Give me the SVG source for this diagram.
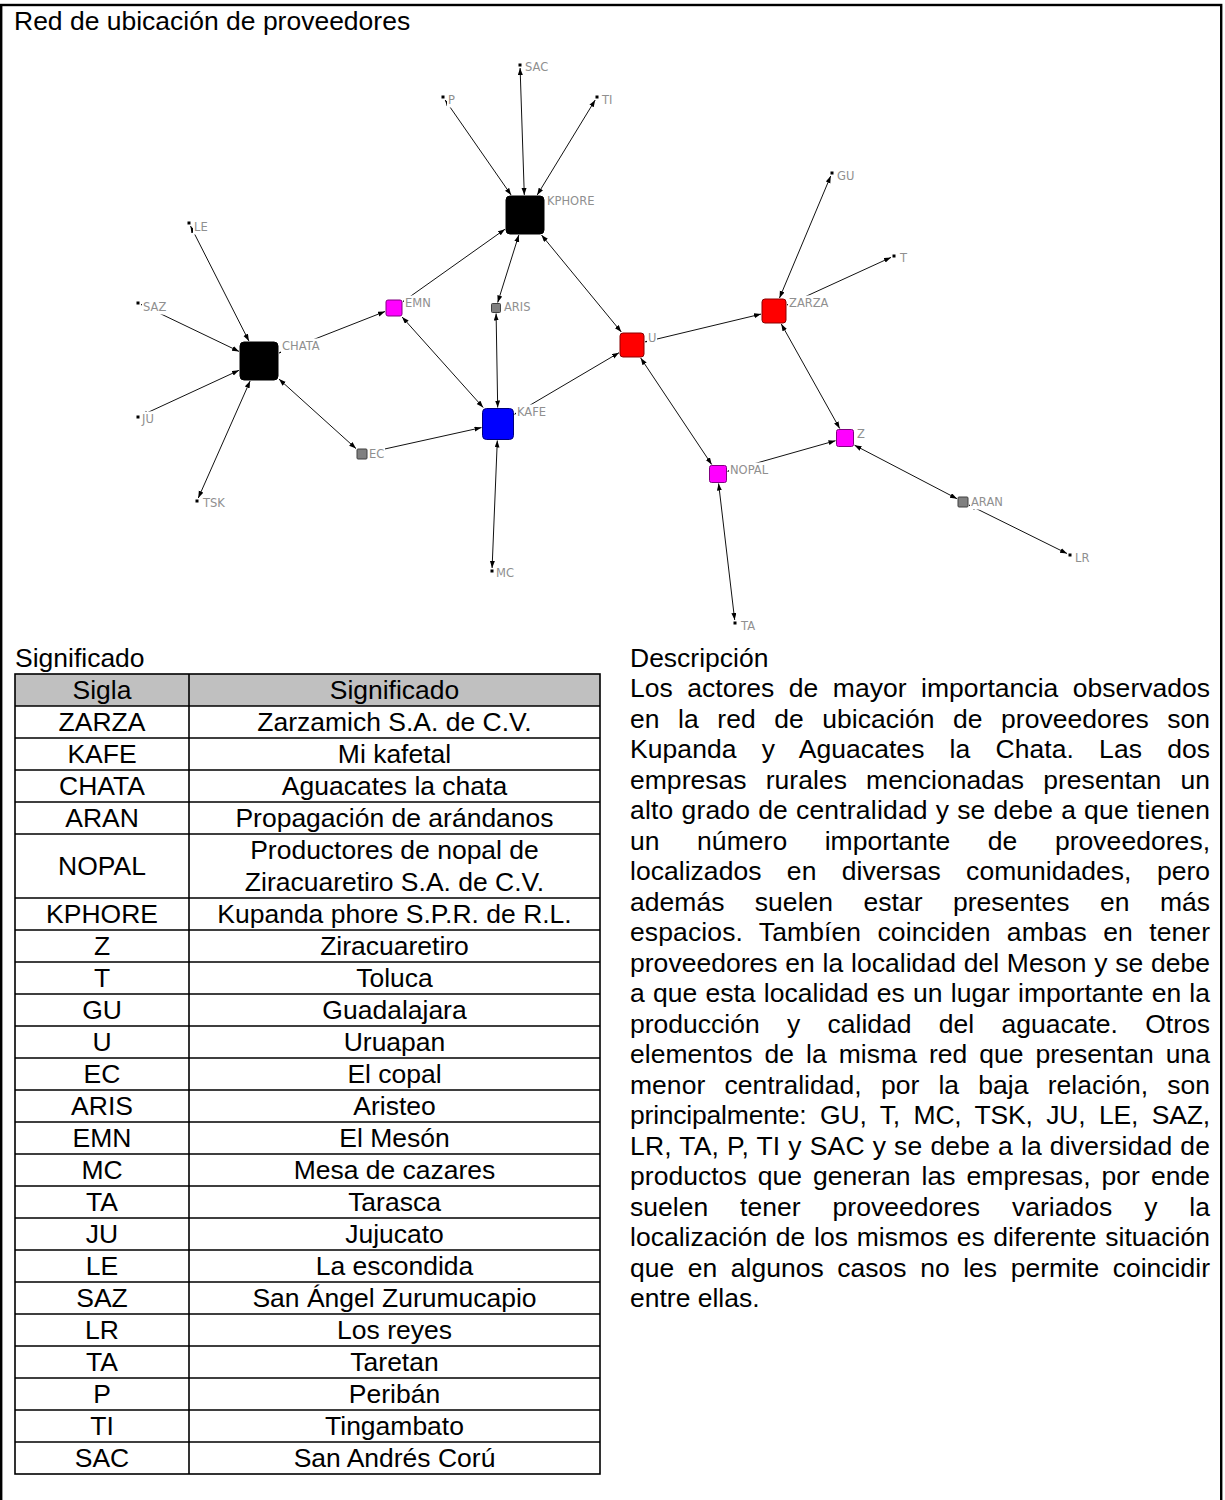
<svg xmlns="http://www.w3.org/2000/svg" width="1225" height="1500" viewBox="0 0 1225 1500">
<style>
.t{font-family:"Liberation Sans",Arial,sans-serif;font-size:25px;fill:#000}
.c{text-anchor:middle}
.lbl{font-family:"DejaVu Sans",Verdana,sans-serif;font-size:11.5px;fill:#8f8f8f}
.lb{fill:#fff}
.e{stroke:#111;stroke-width:1;fill:none;marker-start:url(#ah);marker-end:url(#ah)}
.big{fill:#000;stroke:#000;stroke-width:1}
.blue{fill:#0000ff;stroke:#00007a;stroke-width:1}
.red{fill:#ff0000;stroke:#8b0000;stroke-width:1}
.mag{fill:#ff00ff;stroke:#800080;stroke-width:1}
.gray{fill:#808080;stroke:#404040;stroke-width:1}
.leaf{fill:#000}
.tb{stroke:#000;stroke-width:1.6;fill:none}
</style>
<defs>
<marker id="ah" markerUnits="userSpaceOnUse" markerWidth="8" markerHeight="6" refX="7" refY="2.5" orient="auto-start-reverse">
<path d="M0,0 L7,2.5 L0,5 z" fill="#000"/>
</marker>
</defs>
<rect x="0" y="0" width="1225" height="1500" fill="#fff"/>
<rect x="1.2" y="5" width="1220" height="1520" fill="none" stroke="#000" stroke-width="2.4"/>
<text class="t" transform="translate(14,29.5) scale(1.06,1)">Red de ubicación de proveedores</text>

<g id="connectors">
<line class="e" x1="524.3" y1="195" x2="520.1" y2="68"/>
<line class="e" x1="511.1" y1="195" x2="445.1" y2="100"/>
<line class="e" x1="537.2" y1="195" x2="595.2" y2="100"/>
<line class="e" x1="505" y1="229.2" x2="403" y2="301.6"/>
<line class="e" x1="518.8" y1="235" x2="497.7" y2="302.5"/>
<line class="e" x1="541.5" y1="235" x2="621.3" y2="332"/>
<line class="e" x1="248.9" y1="341" x2="190.5" y2="226"/>
<line class="e" x1="239" y1="351.4" x2="141" y2="304.4"/>
<line class="e" x1="279" y1="353.1" x2="385" y2="311.5"/>
<line class="e" x1="483.2" y1="407.5" x2="402.1" y2="317"/>
<line class="e" x1="497.7" y1="407.5" x2="496.1" y2="313.5"/>
<line class="e" x1="239" y1="370.3" x2="141" y2="415.6"/>
<line class="e" x1="250.1" y1="381" x2="198.3" y2="498"/>
<line class="e" x1="279" y1="379.1" x2="356" y2="448.6"/>
<line class="e" x1="368" y1="452.7" x2="481.5" y2="427.6"/>
<line class="e" x1="497.3" y1="440.5" x2="492.1" y2="568"/>
<line class="e" x1="514.5" y1="414.3" x2="619" y2="352.7"/>
<line class="e" x1="645" y1="341.9" x2="761" y2="314.1"/>
<line class="e" x1="779.5" y1="298" x2="830.7" y2="176"/>
<line class="e" x1="787" y1="305" x2="891" y2="257.4"/>
<line class="e" x1="781.3" y1="324" x2="839.7" y2="428.5"/>
<line class="e" x1="640.7" y1="358" x2="711.7" y2="464.5"/>
<line class="e" x1="727.5" y1="471.3" x2="835.5" y2="440.7"/>
<line class="e" x1="854.5" y1="445.2" x2="957" y2="498.7"/>
<line class="e" x1="969" y1="505" x2="1067" y2="553.5"/>
<line class="e" x1="718.6" y1="483.5" x2="734.7" y2="620"/>
</g>

<g id="node-SAC"><rect class="lb" x="524" y="59.5" width="25" height="15"/><text class="lbl" x="525" y="71">SAC</text><rect class="leaf" x="518.5" y="63.5" width="3" height="3"/></g>
<g id="node-P"><rect class="lb" x="447" y="92.5" width="9" height="15"/><text class="lbl" x="448" y="104">P</text><rect class="leaf" x="441.5" y="95.5" width="3" height="3"/></g>
<g id="node-TI"><rect class="lb" x="601" y="92.5" width="12" height="15"/><text class="lbl" x="602" y="104">TI</text><rect class="leaf" x="595.5" y="95.5" width="3" height="3"/></g>
<g id="node-KPHORE"><rect class="lb" x="546" y="193.5" width="49" height="15"/><text class="lbl" x="547" y="205">KPHORE</text><rect class="big" x="506" y="196" width="38" height="38" rx="4"/></g>
<g id="node-LE"><rect class="lb" x="193" y="219.5" width="15" height="15"/><text class="lbl" x="194" y="231">LE</text><rect class="leaf" x="187.5" y="221.5" width="3" height="3"/></g>
<g id="node-SAZ"><rect class="lb" x="142" y="299.5" width="25" height="15"/><text class="lbl" x="143" y="311">SAZ</text><rect class="leaf" x="136.5" y="301.5" width="3" height="3"/></g>
<g id="node-EMN"><rect class="lb" x="404" y="295.5" width="28" height="15"/><text class="lbl" x="405" y="307">EMN</text><rect class="mag" x="386" y="300" width="16" height="16" rx="2"/></g>
<g id="node-ARIS"><rect class="lb" x="503" y="299.5" width="28" height="15"/><text class="lbl" x="504" y="311">ARIS</text><rect class="gray" x="491.5" y="303.5" width="9" height="9" rx="1"/></g>
<g id="node-CHATA"><rect class="lb" x="281" y="338.5" width="41" height="15"/><text class="lbl" x="282" y="350">CHATA</text><rect class="big" x="240" y="342" width="38" height="38" rx="4"/></g>
<g id="node-JU"><rect class="lb" x="141" y="411.5" width="14" height="15"/><text class="lbl" x="142" y="423">JU</text><rect class="leaf" x="136.5" y="415.5" width="3" height="3"/></g>
<g id="node-TSK"><rect class="lb" x="202" y="495.5" width="24" height="15"/><text class="lbl" x="203" y="507">TSK</text><rect class="leaf" x="195.5" y="499.5" width="3" height="3"/></g>
<g id="node-EC"><rect class="lb" x="368" y="446.5" width="17" height="15"/><text class="lbl" x="369" y="458">EC</text><rect class="gray" x="357" y="449" width="10" height="10" rx="1"/></g>
<g id="node-KAFE"><rect class="lb" x="516" y="404.5" width="31" height="15"/><text class="lbl" x="517" y="416">KAFE</text><rect class="blue" x="482.5" y="408.5" width="31" height="31" rx="4"/></g>
<g id="node-MC"><rect class="lb" x="495" y="565.5" width="20" height="15"/><text class="lbl" x="496" y="577">MC</text><rect class="leaf" x="490.5" y="569.5" width="3" height="3"/></g>
<g id="node-GU"><rect class="lb" x="836" y="168.5" width="19" height="15"/><text class="lbl" x="837" y="180">GU</text><rect class="leaf" x="830.5" y="171.5" width="3" height="3"/></g>
<g id="node-T"><rect class="lb" x="899" y="250.5" width="9" height="15"/><text class="lbl" x="900" y="262">T</text><rect class="leaf" x="892.5" y="254.5" width="3" height="3"/></g>
<g id="node-ZARZA"><rect class="lb" x="788" y="295.5" width="41" height="15"/><text class="lbl" x="789" y="307">ZARZA</text><rect class="red" x="762" y="299" width="24" height="24" rx="3"/></g>
<g id="node-U"><rect class="lb" x="647" y="330.5" width="10" height="15"/><text class="lbl" x="648" y="342">U</text><rect class="red" x="620" y="333" width="24" height="24" rx="3"/></g>
<g id="node-Z"><rect class="lb" x="856" y="426.5" width="10" height="15"/><text class="lbl" x="857" y="438">Z</text><rect class="mag" x="836.5" y="429.5" width="17" height="17" rx="2"/></g>
<g id="node-NOPAL"><rect class="lb" x="729" y="462.5" width="41" height="15"/><text class="lbl" x="730" y="474">NOPAL</text><rect class="mag" x="709.5" y="465.5" width="17" height="17" rx="2"/></g>
<g id="node-ARAN"><rect class="lb" x="970" y="494.5" width="34" height="15"/><text class="lbl" x="971" y="506">ARAN</text><rect class="gray" x="958" y="497" width="10" height="10" rx="1"/></g>
<g id="node-LR"><rect class="lb" x="1074" y="550.5" width="16" height="15"/><text class="lbl" x="1075" y="562">LR</text><rect class="leaf" x="1068.5" y="553.5" width="3" height="3"/></g>
<g id="node-TA"><rect class="lb" x="740" y="618.5" width="17" height="15"/><text class="lbl" x="741" y="630">TA</text><rect class="leaf" x="733.5" y="621.5" width="3" height="3"/></g>

<g id="table">
<text class="t" transform="translate(15,667) scale(1.06,1)">Significado</text>
<rect x="15" y="674" width="585" height="32" fill="#c0c0c0"/>
<rect class="tb" x="15" y="674" width="585" height="800"/>
<line class="tb" x1="189" y1="674" x2="189" y2="1474"/>
<path class="tb" d="M15,706H600M15,738H600M15,770H600M15,802H600M15,834H600M15,898H600M15,930H600M15,962H600M15,994H600M15,1026H600M15,1058H600M15,1090H600M15,1122H600M15,1154H600M15,1186H600M15,1218H600M15,1250H600M15,1282H600M15,1314H600M15,1346H600M15,1378H600M15,1410H600M15,1442H600"/>
<text class="t c" transform="translate(102,699) scale(1.06,1)">Sigla</text>
<text class="t c" transform="translate(394.5,699) scale(1.06,1)">Significado</text>
<text class="t c" transform="translate(102,731) scale(1.06,1)">ZARZA</text>
<text class="t c" transform="translate(394.5,731) scale(1.06,1)">Zarzamich S.A. de C.V.</text>
<text class="t c" transform="translate(102,763) scale(1.06,1)">KAFE</text>
<text class="t c" transform="translate(394.5,763) scale(1.06,1)">Mi kafetal</text>
<text class="t c" transform="translate(102,795) scale(1.06,1)">CHATA</text>
<text class="t c" transform="translate(394.5,795) scale(1.06,1)">Aguacates la chata</text>
<text class="t c" transform="translate(102,827) scale(1.06,1)">ARAN</text>
<text class="t c" transform="translate(394.5,827) scale(1.06,1)">Propagación de arándanos</text>
<text class="t c" transform="translate(102,875) scale(1.06,1)">NOPAL</text>
<text class="t c" transform="translate(394.5,859) scale(1.06,1)">Productores de nopal de</text>
<text class="t c" transform="translate(394.5,891) scale(1.06,1)">Ziracuaretiro S.A. de C.V.</text>
<text class="t c" transform="translate(102,923) scale(1.06,1)">KPHORE</text>
<text class="t c" transform="translate(394.5,923) scale(1.06,1)">Kupanda phore S.P.R. de R.L.</text>
<text class="t c" transform="translate(102,955) scale(1.06,1)">Z</text>
<text class="t c" transform="translate(394.5,955) scale(1.06,1)">Ziracuaretiro</text>
<text class="t c" transform="translate(102,987) scale(1.06,1)">T</text>
<text class="t c" transform="translate(394.5,987) scale(1.06,1)">Toluca</text>
<text class="t c" transform="translate(102,1019) scale(1.06,1)">GU</text>
<text class="t c" transform="translate(394.5,1019) scale(1.06,1)">Guadalajara</text>
<text class="t c" transform="translate(102,1051) scale(1.06,1)">U</text>
<text class="t c" transform="translate(394.5,1051) scale(1.06,1)">Uruapan</text>
<text class="t c" transform="translate(102,1083) scale(1.06,1)">EC</text>
<text class="t c" transform="translate(394.5,1083) scale(1.06,1)">El copal</text>
<text class="t c" transform="translate(102,1115) scale(1.06,1)">ARIS</text>
<text class="t c" transform="translate(394.5,1115) scale(1.06,1)">Aristeo</text>
<text class="t c" transform="translate(102,1147) scale(1.06,1)">EMN</text>
<text class="t c" transform="translate(394.5,1147) scale(1.06,1)">El Mesón</text>
<text class="t c" transform="translate(102,1179) scale(1.06,1)">MC</text>
<text class="t c" transform="translate(394.5,1179) scale(1.06,1)">Mesa de cazares</text>
<text class="t c" transform="translate(102,1211) scale(1.06,1)">TA</text>
<text class="t c" transform="translate(394.5,1211) scale(1.06,1)">Tarasca</text>
<text class="t c" transform="translate(102,1243) scale(1.06,1)">JU</text>
<text class="t c" transform="translate(394.5,1243) scale(1.06,1)">Jujucato</text>
<text class="t c" transform="translate(102,1275) scale(1.06,1)">LE</text>
<text class="t c" transform="translate(394.5,1275) scale(1.06,1)">La escondida</text>
<text class="t c" transform="translate(102,1307) scale(1.06,1)">SAZ</text>
<text class="t c" transform="translate(394.5,1307) scale(1.06,1)">San Ángel Zurumucapio</text>
<text class="t c" transform="translate(102,1339) scale(1.06,1)">LR</text>
<text class="t c" transform="translate(394.5,1339) scale(1.06,1)">Los reyes</text>
<text class="t c" transform="translate(102,1371) scale(1.06,1)">TA</text>
<text class="t c" transform="translate(394.5,1371) scale(1.06,1)">Taretan</text>
<text class="t c" transform="translate(102,1403) scale(1.06,1)">P</text>
<text class="t c" transform="translate(394.5,1403) scale(1.06,1)">Peribán</text>
<text class="t c" transform="translate(102,1435) scale(1.06,1)">TI</text>
<text class="t c" transform="translate(394.5,1435) scale(1.06,1)">Tingambato</text>
<text class="t c" transform="translate(102,1467) scale(1.06,1)">SAC</text>
<text class="t c" transform="translate(394.5,1467) scale(1.06,1)">San Andrés Corú</text>
</g>

<g id="description">
<text class="t" transform="translate(630,667) scale(1.06,1)">Descripción</text>
<text class="t" transform="translate(630,697) scale(1.06,1)" word-spacing="6.7" textLength="547.2" lengthAdjust="spacing">Los actores de mayor importancia observados</text>
<text class="t" transform="translate(630,727.5) scale(1.06,1)" word-spacing="10.5" textLength="547.2" lengthAdjust="spacing">en la red de ubicación de proveedores son</text>
<text class="t" transform="translate(630,758) scale(1.06,1)" word-spacing="16.7" textLength="547.2" lengthAdjust="spacing">Kupanda y Aguacates la Chata. Las dos</text>
<text class="t" transform="translate(630,788.5) scale(1.06,1)" word-spacing="11.1" textLength="547.2" lengthAdjust="spacing">empresas rurales mencionadas presentan un</text>
<text class="t" transform="translate(630,819) scale(1.06,1)" word-spacing="0.4" textLength="547.2" lengthAdjust="spacing">alto grado de centralidad y se debe a que tienen</text>
<text class="t" transform="translate(630,849.5) scale(1.06,1)" word-spacing="28.4" textLength="547.2" lengthAdjust="spacing">un número importante de proveedores,</text>
<text class="t" transform="translate(630,880) scale(1.06,1)" word-spacing="17" textLength="547.2" lengthAdjust="spacing">localizados en diversas comunidades, pero</text>
<text class="t" transform="translate(630,910.5) scale(1.06,1)" word-spacing="21.7" textLength="547.2" lengthAdjust="spacing">además suelen estar presentes en más</text>
<text class="t" transform="translate(630,941) scale(1.06,1)" word-spacing="8.3" textLength="547.2" lengthAdjust="spacing">espacios. Tambíen coinciden ambas en tener</text>
<text class="t" transform="translate(630,971.5) scale(1.06,1)" word-spacing="0.3" textLength="547.2" lengthAdjust="spacing">proveedores en la localidad del Meson y se debe</text>
<text class="t" transform="translate(630,1002) scale(1.06,1)" word-spacing="0.8" textLength="547.2" lengthAdjust="spacing">a que esta localidad es un lugar importante en la</text>
<text class="t" transform="translate(630,1032.5) scale(1.06,1)" word-spacing="18.7" textLength="547.2" lengthAdjust="spacing">producción y calidad del aguacate. Otros</text>
<text class="t" transform="translate(630,1063) scale(1.06,1)" word-spacing="4.3" textLength="547.2" lengthAdjust="spacing">elementos de la misma red que presentan una</text>
<text class="t" transform="translate(630,1093.5) scale(1.06,1)" word-spacing="11.1" textLength="547.2" lengthAdjust="spacing">menor centralidad, por la baja relación, son</text>
<text class="t" transform="translate(630,1124) scale(1.06,1)" word-spacing="6.1" textLength="547.2" lengthAdjust="spacing">principalmente: GU, T, MC, TSK, JU, LE, SAZ,</text>
<text class="t" transform="translate(630,1154.5) scale(1.06,1)" word-spacing="0.4" textLength="547.2" lengthAdjust="spacing">LR, TA, P, TI y SAC y se debe a la diversidad de</text>
<text class="t" transform="translate(630,1185) scale(1.06,1)" word-spacing="3.4" textLength="547.2" lengthAdjust="spacing">productos que generan las empresas, por ende</text>
<text class="t" transform="translate(630,1215.5) scale(1.06,1)" word-spacing="23.1" textLength="547.2" lengthAdjust="spacing">suelen tener proveedores variados y la</text>
<text class="t" transform="translate(630,1246) scale(1.06,1)" word-spacing="1.2" textLength="547.2" lengthAdjust="spacing">localización de los mismos es diferente situación</text>
<text class="t" transform="translate(630,1276.5) scale(1.06,1)" word-spacing="5.8" textLength="547.2" lengthAdjust="spacing">que en algunos casos no les permite coincidir</text>
<text class="t" transform="translate(630,1307) scale(1.06,1)">entre ellas.</text>
</g>
</svg>
